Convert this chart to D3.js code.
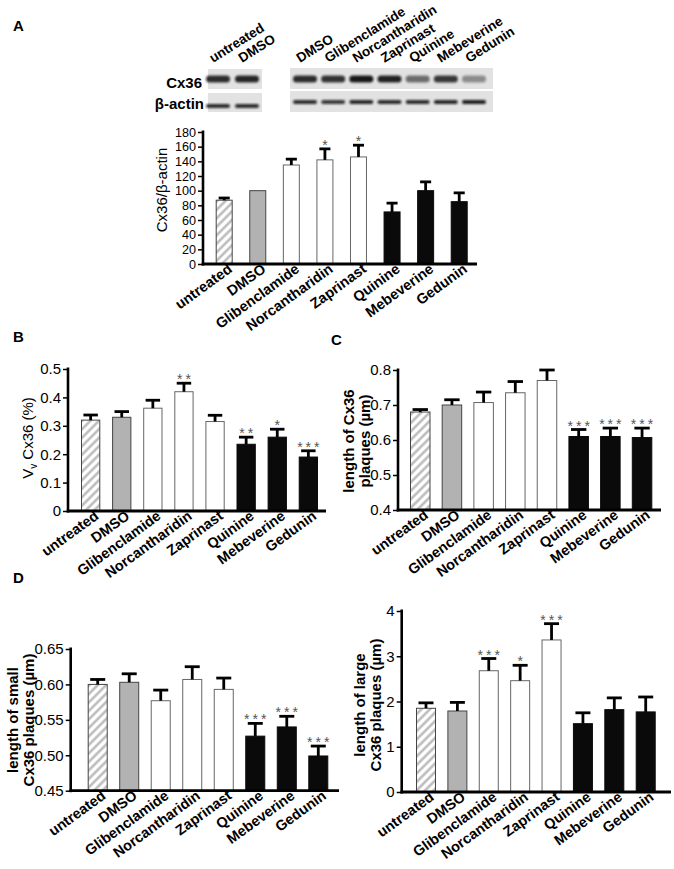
<!DOCTYPE html>
<html><head><meta charset="utf-8">
<script src="https://cdn.jsdelivr.net/npm/d3@7"></script>
<style>body{margin:0;background:#fff} svg{display:block;font-family:"Liberation Sans",Arial,sans-serif}</style>
</head><body><svg id="c" width="674" height="869"></svg>
<script>
// ---------- data ----------
const categories = ["untreated","DMSO","Glibenclamide","Norcantharidin","Zaprinast","Quinine","Mebeverine","Gedunin"];
const groups = ["untreated","DMSO","white","white","white","black","black","black"];

// A: Cx36 / beta-actin (western blot quantification)
const cx36Values = [87,100,135,142,146,71,100,85];
const cx36Errors = [3,0,8,15,16,12,12,12];
const cx36Stars  = ["","","","*","*","","",""];
const cx36Ticks  = [0,20,40,60,80,100,120,140,160,180];

// B: Vv Cx36 (%)
const vvValues = [0.32,0.33,0.362,0.42,0.315,0.235,0.26,0.19];
const vvErrors = [0.018,0.02,0.028,0.03,0.022,0.025,0.028,0.022];
const vvStars  = ["","","","**","","**","*","***"];
const vvTicks  = [0,0.1,0.2,0.3,0.4,0.5];

// C: length of Cx36 plaques (µm)
const lenValues = [0.68,0.70,0.707,0.735,0.77,0.61,0.61,0.607];
const lenErrors = [0.007,0.015,0.03,0.032,0.03,0.02,0.024,0.027];
const lenStars  = ["","","","","","***","***","***"];
const lenTicks  = [0.4,0.5,0.6,0.7,0.8];

// D left: length of small Cx36 plaques (µm)
const smallValues = [0.600,0.603,0.577,0.607,0.593,0.527,0.540,0.499];
const smallErrors = [0.007,0.012,0.015,0.018,0.016,0.018,0.015,0.014];
const smallStars  = ["","","","","","***","***","***"];
const smallTicks  = [0.45,0.50,0.55,0.60,0.65];

// D right: length of large Cx36 plaques (µm)
const largeValues = [1.85,1.79,2.68,2.46,3.36,1.51,1.82,1.77];
const largeErrors = [0.12,0.19,0.27,0.34,0.36,0.24,0.26,0.33];
const largeStars  = ["","","***","*","***","","",""];
const largeTicks  = [0,1,2,3,4];

// Western blot lanes and relative band intensities
const blotLanesLeft  = ["untreated","DMSO"];
const blotLanesRight = ["DMSO","Glibenclamide","Norcantharidin","Zaprinast","Quinine","Mebeverine","Gedunin"];
const cx36BandLeft   = [0.85,0.88];
const cx36BandRight  = [0.85,0.82,0.95,0.9,0.55,0.8,0.4];
const actinBandLeft  = [0.85,0.85];
const actinBandRight = [0.85,0.8,0.88,0.85,0.85,0.88,0.92];

// ---------- drawing ----------
const svg = d3.select("#c");
const defs = svg.append("defs");
const pat = defs.append("pattern").attr("id","hatch").attr("patternUnits","userSpaceOnUse")
  .attr("width",6).attr("height",6).attr("patternTransform","rotate(45)");
pat.append("rect").attr("width",6).attr("height",6).attr("fill","#fff");
pat.append("line").attr("x1",1.5).attr("y1",0).attr("x2",1.5).attr("y2",6).attr("stroke","#b8b8b8").attr("stroke-width",2.4);
defs.append("filter").attr("id","blur").attr("x","-30%").attr("y","-80%").attr("width","160%").attr("height","260%")
  .append("feGaussianBlur").attr("stdDeviation",1.3);

function fillFor(g){ return g==="untreated"?"url(#hatch)":g==="DMSO"?"#b2b2b2":g==="white"?"#fff":"#0a0a0a"; }
function strokeFor(g){ return g==="black"?"#0a0a0a":g==="white"?"#666":"#444"; }

function panel(o){
  const g = svg.append("g");
  const x = d3.scaleBand().domain(categories).range([o.b0,o.b1]).paddingInner(o.pi).paddingOuter(0);
  const y = d3.scaleLinear().domain(o.dom).range([o.yb,o.yt]);
  const bw = x.bandwidth();
  // bars
  g.selectAll("rect.bar").data(categories).join("rect").attr("class","bar")
    .attr("x",d=>x(d)+0.5).attr("width",bw-1)
    .attr("y",(d,i)=>y(o.values[i])).attr("height",(d,i)=>y(o.dom[0])-y(o.values[i]))
    .attr("fill",(d,i)=>fillFor(groups[i])).attr("stroke",(d,i)=>strokeFor(groups[i])).attr("stroke-width",1);
  // error bars
  const cw = bw*o.capW;
  categories.forEach((c,i)=>{
    const e = o.errors[i]; if(!e) return;
    const cx = x(c)+bw/2, y0 = y(o.values[i]), y1 = y(o.values[i]+e);
    g.append("line").attr("x1",cx).attr("x2",cx).attr("y1",y0).attr("y2",y1).attr("stroke","#000").attr("stroke-width",2.8);
    g.append("line").attr("x1",cx-cw/2).attr("x2",cx+cw/2).attr("y1",y1).attr("y2",y1).attr("stroke","#000").attr("stroke-width",2.8);
    if(o.stars[i]){
      g.append("text").attr("x",cx+1.5).attr("y",y1+1).attr("text-anchor","middle")
        .attr("font-size",14).attr("letter-spacing","3px").attr("fill","#555").text(o.stars[i]);
    }
  });
  // y axis
  const ax = g.append("g").attr("transform",`translate(${o.ax},0)`)
    .call(d3.axisLeft(y).tickValues(o.ticks).tickFormat(o.fmt).tickSize(5).tickSizeOuter(0).tickPadding(2));
  ax.select(".domain").remove();
  ax.selectAll(".tick line").attr("stroke","#000").attr("stroke-width",1.5);
  ax.selectAll(".tick text").attr("font-size",o.tickSize||15).attr("font-family","Liberation Sans, Arial, sans-serif").attr("fill","#000");
  g.append("line").attr("x1",o.ax).attr("x2",o.ax).attr("y1",o.yt-1.5).attr("y2",o.yb+1.5).attr("stroke","#000").attr("stroke-width",2.6);
  // x axis line
  g.append("line").attr("x1",o.ax-1.3).attr("x2",o.xEnd).attr("y1",o.yb).attr("y2",o.yb).attr("stroke","#000").attr("stroke-width",2.8);
  // x labels
  categories.forEach(c=>{
    const cx = x(c)+bw/2;
    g.append("text").attr("transform",`translate(${cx+o.lx},${o.yb+o.ly}) rotate(-36)`)
      .attr("text-anchor","end").attr("font-size",14.5).attr("font-weight","bold").text(c);
  });
  // y label
  const cy = o.labelY;
  o.labelLines.forEach((ln,k)=>{
    const t = g.append("text").attr("transform",`translate(${o.labelX[k]},${cy}) rotate(-90)`)
      .attr("text-anchor","middle").attr("dy","0.36em").attr("font-size",15)
      .attr("font-weight",o.labelBold?"bold":"normal");
    if(Array.isArray(ln)){
      ln.forEach(p=>{ const s=t.append("tspan").text(p.t); if(p.size) s.attr("font-size",p.size); if(p.dy) s.attr("dy",p.dy); });
    } else t.text(ln);
  });
  // panel letter
  if(o.letter) svg.append("text").attr("x",o.letter[1]).attr("y",o.letter[2]).attr("font-size",15).attr("font-weight","bold").text(o.letter[0]);
}

// blots
function blot(lanes, c0, c1, box, cxInt, acInt, cxY, acY){
  const g = svg.append("g");
  const xs = d3.scalePoint().domain(lanes).range([c0,c1]);
  g.append("rect").attr("x",box[0]).attr("y",box[1]).attr("width",box[2]).attr("height",box[3]).attr("fill","#e2e2e2");
  g.append("rect").attr("x",box[0]).attr("y",box[4]).attr("width",box[2]).attr("height",box[5]).attr("fill","#e2e2e2");
  lanes.forEach((l,i)=>{
    const cx = xs(l);
    g.append("rect").attr("x",cx-12).attr("y",cxY-3.5).attr("width",24).attr("height",7).attr("rx",3.5)
      .attr("fill","#111").attr("opacity",cxInt[i]).attr("filter","url(#blur)");
    g.append("rect").attr("x",cx-12).attr("y",acY-2).attr("width",24).attr("height",4).attr("rx",2)
      .attr("fill","#111").attr("opacity",acInt[i]).attr("filter","url(#blur)");
    g.append("text").attr("transform",`translate(${cx-5},63) rotate(-32)`).attr("font-size",13.5)
      .attr("font-weight","bold").text(l);
  });
}
blot(blotLanesLeft,218,247,[208,69,54,20,93,19],cx36BandLeft,actinBandLeft,79,106);
blot(blotLanesRight,305,474,[290,68,203,21,91,21],cx36BandRight,actinBandRight,79,102);
svg.append("text").attr("x",202).attr("y",88).attr("text-anchor","end").attr("font-size",15).attr("font-weight","bold").text("Cx36");
svg.append("text").attr("x",204).attr("y",109).attr("text-anchor","end").attr("font-size",15).attr("font-weight","bold").text("β-actin");

const f0 = d3.format("d"), f1 = d3.format(".1f"), f2 = d3.format(".2f");
panel({dom:[0,180],yb:264,yt:132,ax:203,xEnd:477,b0:215.7,b1:467.7,pi:0.494,capW:0.65,tickSize:12.6,
  values:cx36Values,errors:cx36Errors,stars:cx36Stars,ticks:cx36Ticks,fmt:f0,lx:9,ly:7,
  labelLines:["Cx36/β-actin"],labelX:[162],labelY:190,labelBold:false,letter:["A",13,31]});
panel({dom:[0,0.5],yb:511,yt:369,ax:68,xEnd:326,b0:81,b1:318,pi:0.38,capW:0.75,
  values:vvValues,errors:vvErrors,stars:vvStars,ticks:vvTicks,fmt:d=>d===0?"0":f1(d),lx:9,ly:7,
  labelLines:[[{t:"V"},{t:"v",size:10,dy:4},{t:" Cx36 (%)",dy:-4}]],labelX:[28],labelY:438,labelBold:false,letter:["B",13,342]});
panel({dom:[0.4,0.8],yb:510,yt:370,ax:398,xEnd:661,b0:410,b1:652.3,pi:0.353,capW:0.75,
  values:lenValues,errors:lenErrors,stars:lenStars,ticks:lenTicks,fmt:f1,lx:9,ly:7,
  labelLines:["length of Cx36","plaques (µm)"],labelX:[349,365],labelY:441,labelBold:true,letter:["C",331,345]});
panel({dom:[0.45,0.65],yb:790.7,yt:649,ax:70.7,xEnd:339,b0:87.7,b1:328.3,pi:0.365,capW:0.75,
  values:smallValues,errors:smallErrors,stars:smallStars,ticks:smallTicks,fmt:f2,lx:9,ly:7,
  labelLines:["length of small","Cx36 plaques (µm)"],labelX:[13,29],labelY:720,labelBold:true,letter:["D",13,583]});
panel({dom:[0,4],yb:792,yt:611,ax:401.7,xEnd:671,b0:416,b1:655.7,pi:0.363,capW:0.75,
  values:largeValues,errors:largeErrors,stars:largeStars,ticks:largeTicks,fmt:f0,lx:9,ly:7,
  labelLines:["length of large","Cx36 plaques (µm)"],labelX:[360,376],labelY:705,labelBold:true,letter:null});
</script></body></html>
